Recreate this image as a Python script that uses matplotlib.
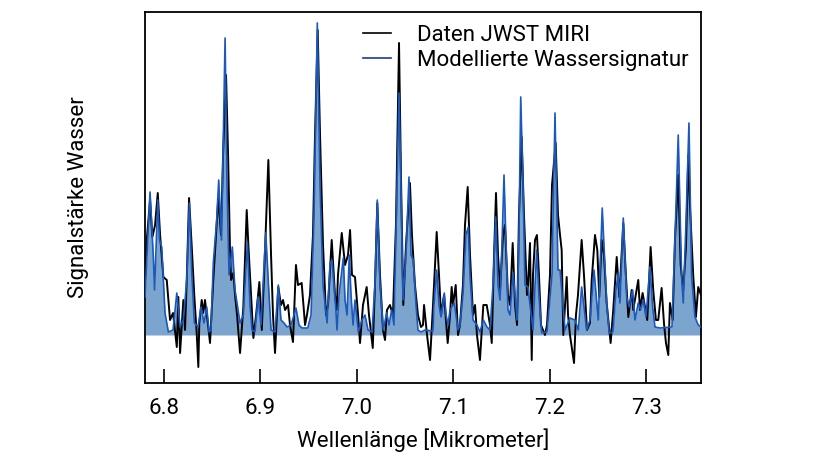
import matplotlib
matplotlib.use("Agg")
import matplotlib.pyplot as plt
from matplotlib.lines import Line2D

plt.rcParams['font.family'] = ['Roboto', 'DejaVu Sans']

# Modelled water signature (wavelength in micrometre, signal in arbitrary units)
model_wl = [6.7808, 6.7836, 6.7860, 6.7894, 6.7907, 6.7940, 6.7958, 6.7981, 6.8015, 6.8050,
            6.8098, 6.8137, 6.8171, 6.8205, 6.8240, 6.8267, 6.8292, 6.8319, 6.8357, 6.8388,
            6.8419, 6.8447, 6.8471, 6.8491, 6.8515, 6.8550, 6.8571, 6.8600, 6.8637, 6.8657,
            6.8678, 6.8712, 6.8740, 6.8792, 6.8826, 6.8868,
            6.8895, 6.8916, 6.8947, 6.8978, 6.9009, 6.9058, 6.9092, 6.9113, 6.9154, 6.9188,
            6.9216, 6.9247, 6.9278, 6.9320, 6.9371, 6.9402, 6.9433, 6.9465, 6.9493, 6.9527,
            6.9558, 6.9592, 6.9620, 6.9651, 6.9693, 6.9724, 6.9744, 6.9781, 6.9796, 6.9817,
            6.9861, 6.9879, 6.9900, 6.9923, 6.9941, 6.9962, 6.9982, 7.0017, 7.0055, 7.0086,
            7.0117, 7.0158, 7.0189, 7.0213, 7.0241, 7.0275, 7.0310, 7.0334, 7.0362, 7.0386,
            7.0406, 7.0438, 7.0458, 7.0479, 7.0510, 7.0541, 7.0562, 7.0586, 7.0614, 7.0634,
            7.0665, 7.0707, 7.0790, 7.0800, 7.0828, 7.0852, 7.0873, 7.0907, 7.0925, 7.0945,
            7.0966, 7.1010, 7.1049, 7.1069, 7.1100, 7.1131, 7.1155, 7.1173, 7.1204, 7.1245,
            7.1276, 7.1311, 7.1349, 7.1380, 7.1411, 7.1439, 7.1463, 7.1484, 7.1504, 7.1525,
            7.1546, 7.1566, 7.1587, 7.1618, 7.1639, 7.1660, 7.1680, 7.1698, 7.1722, 7.1742,
            7.1773, 7.1825, 7.1863, 7.1887, 7.1915, 7.1970, 7.2022, 7.2053, 7.2084, 7.2105,
            7.2157, 7.2208, 7.2260, 7.2294, 7.2329, 7.2381,
            7.2415, 7.2457, 7.2501, 7.2542, 7.2588, 7.2614, 7.2653, 7.2684, 7.2708, 7.2726,
            7.2760, 7.2795, 7.2822, 7.2857, 7.2881, 7.2915, 7.2940, 7.2967, 7.2995, 7.3036,
            7.3064, 7.3088, 7.3140, 7.3264, 7.3295, 7.3329, 7.3364, 7.3381, 7.3409, 7.3440,
            7.3468, 7.3502, 7.3536, 7.3564]
model_sig = [38, 95, 143, 78, 45, 135, 95, 88, 22, 3,
             5, 42, 8, 15, 55, 132, 62, 12, 8, 28,
             12, 28, 3, 5, 72, 115, 155, 95, 297, 150,
             60, 88, 45, 12, 20, 92,
             30, 5, 3, 38, 10, 102, 40, 5, 3, 50,
             15, 12, 8, 10, 27, 10, 7, 7, 7, 20,
             120, 312, 150, 50, 12, 72, 75, 30, 5, 40,
             77, 35, 20, 80, 40, 10, 35, 3, 15, 20,
             5, 3, 50, 135, 50, 5, 22, 10, 25, 10,
             100, 242, 150, 35, 80, 158, 80, 75, 30, 5,
             3, 5, 4, 30, 65, 30, 18, 42, 20, 10,
             25, 32, 5, 10, 40, 100, 108, 60, 15, 10,
             3, 15, 8, 5, 50, 118, 50, 35, 90, 160,
             90, 25, 20, 62, 40, 15, 100, 238, 150, 50,
             48, 5, 85, 40, 2, 3, 60, 222, 65, 65,
             5, 17, 15, 5, 48, 5,
             15, 65, 15, 127, 32, 2, 3, 45, 62, 32,
             117, 38, 28, 45, 15, 32, 25, 35, 18, 68,
             28, 8, 7, 8, 95, 200, 58, 32, 112, 212,
             58, 18, 10, 8]

# JWST MIRI data
data_wl = [6.7808, 6.7826, 6.7860, 6.7884, 6.7912, 6.7940, 6.7964, 6.7998, 6.8033, 6.8067,
           6.8098, 6.8137, 6.8153, 6.8171, 6.8205, 6.8222, 6.8240, 6.8264, 6.8292, 6.8319,
           6.8343, 6.8360, 6.8370, 6.8395, 6.8412, 6.8429, 6.8463, 6.8481, 6.8515, 6.8540,
           6.8567, 6.8595, 6.8616, 6.8647, 6.8668, 6.8688, 6.8699, 6.8722, 6.8740, 6.8761,
           6.8792, 6.8826, 6.8861, 6.8878,
           6.8895, 6.8930, 6.8958, 6.8992, 6.9017, 6.9041, 6.9085, 6.9113, 6.9133, 6.9154,
           6.9188, 6.9216, 6.9237, 6.9258, 6.9289, 6.9309, 6.9340, 6.9371, 6.9392, 6.9430,
           6.9465, 6.9485, 6.9516, 6.9547, 6.9568, 6.9596, 6.9620, 6.9651, 6.9682, 6.9703,
           6.9741, 6.9775, 6.9793, 6.9806, 6.9845, 6.9879, 6.9910, 6.9931, 6.9951, 6.9982,
           7.0014, 7.0034, 7.0065, 7.0103, 7.0127, 7.0166, 7.0189, 7.0213, 7.0241, 7.0272,
           7.0293, 7.0313, 7.0344, 7.0375, 7.0406, 7.0438, 7.0458, 7.0482, 7.0510, 7.0551,
           7.0572, 7.0603, 7.0634, 7.0665, 7.0686, 7.0697, 7.0728, 7.0759, 7.0790, 7.0828,
           7.0852, 7.0873, 7.0904, 7.0942, 7.0966, 7.0983, 7.0997, 7.1025, 7.1049, 7.1069,
           7.1100, 7.1121, 7.1149, 7.1173, 7.1204, 7.1225, 7.1245, 7.1276, 7.1311, 7.1346,
           7.1380, 7.1398, 7.1422, 7.1442, 7.1463, 7.1484, 7.1515, 7.1535, 7.1566, 7.1587,
           7.1615, 7.1639, 7.1660, 7.1680, 7.1708, 7.1732, 7.1763, 7.1773, 7.1794, 7.1812,
           7.1825, 7.1846, 7.1866, 7.1887, 7.1908, 7.1949, 7.1970, 7.2001, 7.2022, 7.2060,
           7.2084, 7.2105, 7.2122, 7.2139, 7.2174, 7.2188, 7.2208, 7.2250, 7.2270, 7.2291,
           7.2329, 7.2353,
           7.2384, 7.2415, 7.2433, 7.2467, 7.2491, 7.2511, 7.2536, 7.2560, 7.2588, 7.2629,
           7.2656, 7.2692, 7.2719, 7.2760, 7.2788, 7.2812, 7.2847, 7.2863, 7.2915, 7.2933,
           7.2960, 7.2985, 7.3008, 7.3043, 7.3070, 7.3098, 7.3122, 7.3157, 7.3181, 7.3202,
           7.3226, 7.3243, 7.3271, 7.3295, 7.3329, 7.3354, 7.3381, 7.3409, 7.3433, 7.3450,
           7.3484, 7.3512, 7.3536, 7.3564]
data_sig = [55, 95, 135, 98, 110, 142, 100, 58, 55, 15,
            22, -12, 38, -18, 35, 5, 55, 137, 88, 38,
            2, -32, 12, 35, 22, 35, 8, -8, 55, 95,
            138, 100, 180, 260, 180, 85, 55, 62, 40, 20,
            -18, 28, 125, 90,
            60, -3, 20, 53, 5, 60, 175, 80, 20, -18,
            48, 30, 35, 25, 30, 10, -7, 70, 50, 52,
            10, 20, 40, 100, 200, 305, 200, 90, 20, 30,
            95, 40, 25, 60, 102, 70, 80, 105, 60, 58,
            20, -8, 30, 48, 20, -13, 50, 132, 60, 5,
            -5, 25, 30, 20, 110, 292, 160, 30, 90, 152,
            100, 50, 20, 8, 10, 30, 0, -25, 30, 103,
            60, 20, 40, -8, 20, 48, 30, 50, 0, 10,
            50, 110, 148, 80, 20, 30, 0, -25, 30, 30,
            10, -8, 80, 142, 80, 45, 100, 110, 40, 30,
            92, 30, 10, 120, 198, 120, 40, 48, 92, -25,
            60, 95, 100, 60, 10, 0, 10, 60, 150, 192,
            120, 100, 85, 0, 58, 20, 0, -28, 20, 40,
            95, 60,
            5, 12, 55, 100, 85, 38, 95, 80, 32, -8,
            25, 78, 38, 112, 58, 18, 45, 25, 55, 25,
            42, 28, 15, 88, 45, 15, 15, 47, 12, -8,
            -20, 32, 15, 95, 160, 70, 45, 88, 180, 130,
            60, 18, 48, 40]

x_ticks = [6.8, 6.9, 7.0, 7.1, 7.2, 7.3]

fig = plt.figure(figsize=(8.17, 4.67), dpi=100)
ax = fig.add_axes([0.1775, 0.1805, 0.6802, 0.7945])

fill_col = '#7ba5cf'
line_blue = '#1b59bd'

ax.fill_between(model_wl, 0, model_sig, color=fill_col, linewidth=0, zorder=1)
ax.plot(data_wl, data_sig, color='black', lw=1.4, zorder=2)
ax.plot(model_wl, model_sig, color=line_blue, lw=1.2, zorder=3)

fs = 16
ax.set_xlim(6.7808, 7.3562)
ax.set_ylim(-47.7, 323.3)
ax.set_xticks(x_ticks)
ax.set_xticklabels([f"{t:.1f}" for t in x_ticks], fontsize=fs)
ax.set_yticks([])
ax.tick_params(axis='x', direction='in', length=10, width=1.2, pad=11)
for s in ax.spines.values():
    s.set_linewidth(1.3)

ax.set_xlabel('Wellenlänge [Mikrometer]', fontsize=fs, labelpad=7)
ax.set_ylabel('Signalstärke Wasser', fontsize=fs, labelpad=40)

handles = [Line2D([], [], color='black', lw=1.2),
           Line2D([], [], color='#1a3a9e', lw=1.2)]
ax.legend(handles, ['Daten JWST MIRI', 'Modellierte Wassersignatur'],
          loc='upper left', bbox_to_anchor=(0.356, 1.019), frameon=False,
          fontsize=fs, handlelength=1.25, handletextpad=1.2, labelspacing=0.2)

fig.savefig('out.png', dpi=100)
